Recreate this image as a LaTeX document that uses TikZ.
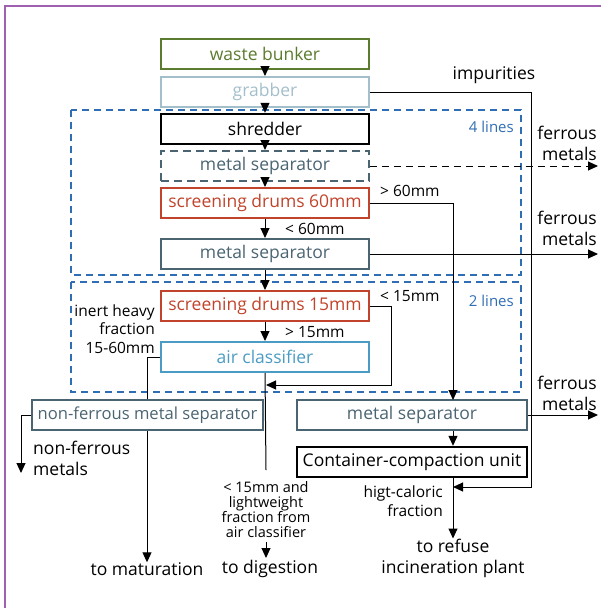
\documentclass[tikz,border=0pt]{standalone}
\usepackage{fontspec}
\setmainfont{Open Sans}
\usetikzlibrary{arrows.meta}
\definecolor{bunkergreen}{HTML}{5B7B2E}
\definecolor{grabgrey}{HTML}{A3BFCB}
\definecolor{slate}{HTML}{4A6472}
\definecolor{drumred}{HTML}{C1432B}
\definecolor{airblue}{HTML}{4A9CC4}
\definecolor{lineblue}{HTML}{2F6EB5}
\definecolor{framepurple}{HTML}{A060B0}
\tikzset{
  box/.style={draw, line width=2pt, minimum width=208pt, minimum height=30pt,
    inner sep=0pt, font=\fontsize{17.5}{20}\selectfont},
  lbl/.style={inner sep=0pt, font=\fontsize{17.5}{21}\selectfont, align=center},
  small/.style={inner sep=0pt, font=\fontsize{15.5}{18.5}\selectfont, align=center},
  tag/.style={inner sep=0pt, font=\fontsize{15}{18}\selectfont, text=lineblue},
  flow/.style={line width=1pt, -{Triangle[length=10pt,width=9pt]}},
  plain/.style={line width=1pt},
  region/.style={draw=lineblue, line width=1.2pt, dash pattern=on 7pt off 5pt},
}
\begin{document}
\begin{tikzpicture}[x=1pt,y=-1pt]
\useasboundingbox (0,0) rectangle (600,608);
% frame
\draw[framepurple, line width=1.5pt] (5,612) -- (5,6) -- (604,6);

% dashed line groups
\draw[region] (71,110) rectangle (521,275);
\draw[region] (71,282) rectangle (521,392);
\node[tag, anchor=east] (four) at (514,127) {4 lines};
\node[tag, anchor=east] (two) at (514,301) {2 lines};

% process chain
\node[box, draw=bunkergreen, text=bunkergreen] (bunker) at (265,54) {waste bunker};
\node[box, draw=grabgrey, text=grabgrey] (grab) at (265,92) {grabber};
\node[box, draw=black, line width=2.4pt] (shred) at (265,129) {shredder};
\node[box, draw=slate, text=slate, dash pattern=on 8pt off 5pt] (ms1) at (265,166) {metal separator};
\node[box, draw=drumred, text=drumred] (sd60) at (265,203) {screening drums 60mm};
\node[box, draw=slate, text=slate] (ms2) at (265,254) {metal separator};
\node[box, draw=drumred, text=drumred] (sd15) at (265,306) {screening drums 15mm};
\node[box, draw=airblue, text=airblue] (air) at (265,357) {air classifier};
\node[box, draw=slate, text=slate, minimum width=231pt, font=\fontsize{16.6}{20}\selectfont] (nf) at (147.5,415) {non-ferrous metal separator};
\node[box, draw=slate, text=slate, minimum width=230pt] (ms3) at (412,415) {metal separator};
\node[box, draw=black, line width=2.4pt, minimum width=230pt] (ccu) at (412,462) {Container-compaction unit};

\foreach \a/\b in {bunker/grab, grab/shred, shred/ms1, ms1/sd60, sd60/ms2, ms2/sd15, sd15/air}
  \draw[flow] (\a.south) -- (\b.north);

% outputs
\node[lbl] (imp) at (494,75) {impurities};
\node[lbl, align=right, anchor=east] (fe1) at (597,143) {ferrous\\metals};
\node[lbl, align=right, anchor=east] (fe2) at (597,228) {ferrous\\metals};
\node[lbl, align=right, anchor=east] (fe3) at (597,393) {ferrous\\metals};
\coordinate (fe1end) at (598,166);
\coordinate (fe2end) at (598,254);
\coordinate (fe3end) at (598,415);

\draw[flow, dash pattern=on 7pt off 5pt] (ms1.east) -- (fe1end);
\draw[flow] (ms2.east) -- (fe2end);
\draw[flow] (ms3.east) -- (fe3end);

% impurities bypass
\coordinate (ms3top) at (453,400);
\coordinate (ccubot) at (453,477);
\coordinate (impjoin) at (453,487);
\draw[flow] (grab.east) -- (531,92) -- (531,487) -- (impjoin);

% coarse fraction > 60mm
\node[small, anchor=west] (g60) at (380,191) {> 60mm};
\node[small, anchor=west] (l60) at (285,229) {< 60mm};
\draw[flow] (sd60.east) -- (453,203) -- (ms3top);

% fine fraction < 15mm
\node[small, anchor=west] (l15) at (380,296) {< 15mm};
\node[small, anchor=west] (g15) at (285,332) {> 15mm};
\coordinate (finejoin) at (266,385);
\draw[flow] (sd15.east) -- (391,306) -- (391,385) -- (finejoin);

% heavy fraction
\node[small, align=right, anchor=east] (inert) at (155,329) {inert heavy\\fraction\\15-60mm};
\draw[plain] (air.west) -- (147,357) -- (nf.north -| 147,0);
\node[lbl] (mat) at (147,569) {to maturation};
\draw[flow] (nf.south -| 147,0) -- (mat.north);
\node[lbl, align=left, anchor=west] (nfm) at (33,458) {non-ferrous\\metals};
\draw[flow] (nf.west) -- (21,415) -- (21,473);

% light fraction
\node[small, font=\fontsize{14.5}{15}\selectfont] (light) at (266,510) {< 15mm and\\lightweight\\fraction from\\air classifier};
\node[lbl] (dig) at (270,569) {to digestion};
\draw[plain] (air.south) -- (266,470);
\draw[flow] (266,542) -- (266,558);

% residual fraction
\draw[flow] (ms3.south -| ms3top) -- (ccu.north -| ms3top);
\node[small, align=right, anchor=east] (cal) at (443,501) {higt-caloric\\fraction};
\node[lbl] (inc) at (453,558) {to refuse\\incineration plant};
\draw[flow] (ccubot) -- (inc.north);
\end{tikzpicture}
\end{document}
